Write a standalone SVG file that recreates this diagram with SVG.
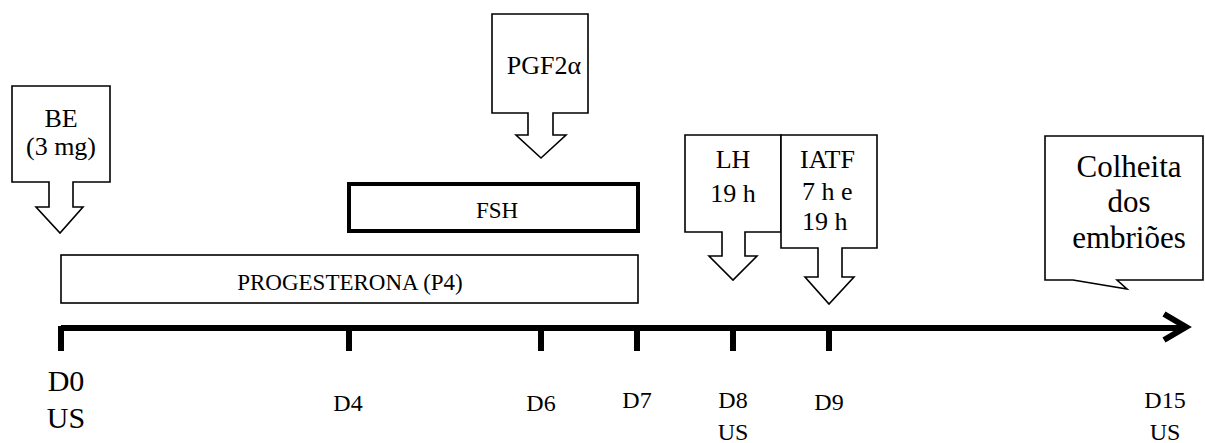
<svg xmlns="http://www.w3.org/2000/svg" width="1205" height="443" viewBox="0 0 1205 443" font-family="'Liberation Serif', 'Times New Roman', Times, serif">
<style>
text{font-family:'Liberation Serif','Times New Roman',Times,serif;fill:#000}
.c{text-anchor:middle}
.box{fill:#fff;stroke:#000;stroke-width:1.6}
.tick{stroke:#000;stroke-width:6}
.lbl{font-size:24px}
</style>
<rect width="1205" height="443" fill="#fff"/>
<g id="connectors">
<line x1="61" y1="328" x2="1184" y2="328" stroke="#000" stroke-width="6"/>
<polyline points="1164,314 1186,327 1164,340" fill="none" stroke="#000" stroke-width="6" stroke-linejoin="miter"/>
<line class="tick" x1="61" y1="326" x2="61" y2="351"/>
<line class="tick" x1="349" y1="326" x2="349" y2="351"/>
<line class="tick" x1="541" y1="326" x2="541" y2="351"/>
<line class="tick" x1="637" y1="326" x2="637" y2="351"/>
<line class="tick" x1="733" y1="326" x2="733" y2="351"/>
<line class="tick" x1="829" y1="326" x2="829" y2="351"/>
</g>
<g id="labels">
<text x="66" y="391" class="c" font-size="30">D0</text>
<text x="66" y="428" class="c" font-size="30">US</text>
<text x="348" y="411" class="c lbl">D4</text>
<text x="541" y="411" class="c lbl">D6</text>
<text x="637" y="408" class="c lbl">D7</text>
<text x="733" y="408" class="c lbl">D8</text>
<text x="733" y="440" class="c lbl">US</text>
<text x="829" y="410" class="c lbl">D9</text>
<text x="1165" y="408" class="c lbl">D15</text>
<text x="1165" y="440" class="c lbl">US</text>
</g>
<g id="progesterona">
<rect class="box" x="61" y="255" width="577" height="48"/>
<text x="350" y="290" class="c" font-size="23">PROGESTERONA (P4)</text>
</g>
<g id="fsh">
<rect x="349" y="184" width="289" height="47" fill="#fff" stroke="#000" stroke-width="4"/>
<text x="497" y="218" class="c" font-size="23">FSH</text>
</g>
<g id="be">
<path class="box" d="M12,86 H110 V182 H73 V207 H83 L60,233 L36,207 H49 V182 H12 Z"/>
<text x="61" y="127" class="c" font-size="26">BE</text>
<text x="61" y="155" class="c" font-size="26">(3 mg)</text>
</g>
<g id="pgf">
<path class="box" d="M492,14 H588 V113 H553 V135 H566 L541,158 L516,135 H528 V113 H492 Z"/>
<text x="544" y="74" class="c" font-size="26">PGF2α</text>
</g>
<g id="lh">
<path class="box" d="M685,135 H781 V232 H745 V256 H757 L733,280 L709,256 H722 V232 H685 Z"/>
<text x="733" y="168" class="c" font-size="26">LH</text>
<text x="733" y="202" class="c" font-size="26">19 h</text>
</g>
<g id="iatf">
<path class="box" d="M781,135 H877 V248 H842 V277 H854 L829,304 L805,277 H818 V248 H781 Z"/>
<text x="800" y="168" font-size="26">IATF</text>
<text x="802" y="200" font-size="26">7 h e</text>
<text x="802" y="230" font-size="26">19 h</text>
</g>
<g id="colheita">
<path class="box" d="M1045,136 H1203 V280 H1117 L1127,289 L1073,280 H1045 Z"/>
<text x="1129" y="177" class="c" font-size="31">Colheita</text>
<text x="1129" y="212" class="c" font-size="31">dos</text>
<text x="1129" y="248" class="c" font-size="31">embriões</text>
</g>
</svg>
